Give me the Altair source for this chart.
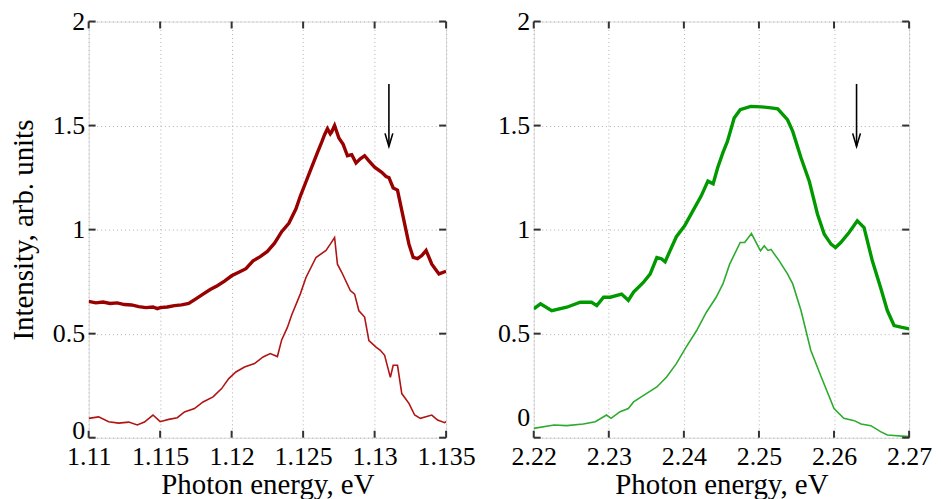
import altair as alt
import pandas as pd

# ---------------- data ----------------
# Left panel, thick upper curve
l_top_x = [1.1100, 1.1105, 1.1110, 1.1115, 1.1120, 1.1125, 1.1130, 1.1135, 1.1140, 1.1145,
           1.1148, 1.1150, 1.1155, 1.1160, 1.1165, 1.1170, 1.1175, 1.1180, 1.1185, 1.1190,
           1.1195, 1.1200, 1.1205, 1.1210, 1.1215, 1.1220, 1.1225, 1.1230, 1.1235, 1.1240,
           1.1245, 1.1248, 1.1252, 1.1256, 1.1260, 1.1263, 1.1265, 1.1267, 1.1269, 1.1270,
           1.1272, 1.1275, 1.1278, 1.1281, 1.1284, 1.1287, 1.1290, 1.1293, 1.1296, 1.1300,
           1.1305, 1.1308, 1.1310, 1.1313, 1.1316, 1.1320, 1.1324, 1.1327, 1.1330, 1.1333,
           1.1336, 1.1340, 1.1345, 1.1350]
l_top_y = [0.655, 0.648, 0.652, 0.645, 0.648, 0.640, 0.638, 0.630, 0.625, 0.628,
           0.620, 0.625, 0.628, 0.635, 0.638, 0.645, 0.667, 0.690, 0.712, 0.730,
           0.752, 0.778, 0.795, 0.812, 0.850, 0.870, 0.895, 0.935, 0.990, 1.030,
           1.100, 1.160, 1.230, 1.300, 1.370, 1.420, 1.456, 1.485, 1.460, 1.470,
           1.500, 1.440, 1.410, 1.355, 1.360, 1.320, 1.340, 1.355, 1.330, 1.300,
           1.275, 1.255, 1.250, 1.200, 1.190, 1.060, 0.930, 0.866, 0.860, 0.875,
           0.900, 0.834, 0.787, 0.800]

# Left panel, thin lower curve
l_bot_x = [1.1100, 1.1107, 1.1114, 1.1121, 1.1128, 1.1134, 1.1139, 1.1145, 1.1150, 1.1156,
           1.1162, 1.1167, 1.1174, 1.1180, 1.1187, 1.1193, 1.1198, 1.1203, 1.1209, 1.1216,
           1.1222, 1.1227, 1.1232, 1.1235, 1.1239, 1.1242, 1.1248, 1.1252, 1.1259, 1.1266,
           1.1269, 1.1272, 1.1274, 1.1277, 1.1283, 1.1286, 1.1289, 1.1293, 1.1296, 1.1301,
           1.1304, 1.1307, 1.1311, 1.1313, 1.1316, 1.1319, 1.1324, 1.1328, 1.1332, 1.1340,
           1.1344, 1.1349, 1.1350]
l_bot_y = [0.093, 0.100, 0.077, 0.070, 0.075, 0.061, 0.075, 0.109, 0.077, 0.088,
           0.096, 0.124, 0.140, 0.172, 0.196, 0.236, 0.284, 0.316, 0.340, 0.356,
           0.388, 0.404, 0.390, 0.470, 0.530, 0.590, 0.690, 0.770, 0.866, 0.900,
           0.930, 0.962, 0.834, 0.795, 0.707, 0.690, 0.610, 0.580, 0.467, 0.435,
           0.420, 0.396, 0.290, 0.348, 0.348, 0.212, 0.165, 0.109, 0.093, 0.109,
           0.085, 0.072, 0.077]

# Right panel, thick upper curve
r_top_x = [2.2200, 2.2209, 2.2224, 2.2244, 2.2262, 2.2277, 2.2284, 2.2293, 2.2302, 2.2317,
           2.2326, 2.2333, 2.2346, 2.2355, 2.2364, 2.2370, 2.2375, 2.2381, 2.2390, 2.2401,
           2.2412, 2.2423, 2.2432, 2.2439, 2.2445, 2.2452, 2.2458, 2.2467, 2.2475, 2.2489,
           2.2503, 2.2516, 2.2525, 2.2538, 2.2545, 2.2556, 2.2567, 2.2578, 2.2587, 2.2596,
           2.2602, 2.2609, 2.2620, 2.2631, 2.2640, 2.2651, 2.2662, 2.2671, 2.2680, 2.2689,
           2.2700]
r_top_y = [0.619, 0.643, 0.610, 0.627, 0.651, 0.651, 0.635, 0.675, 0.675, 0.690,
           0.660, 0.700, 0.746, 0.786, 0.866, 0.860, 0.845, 0.894, 0.966, 1.018,
           1.090, 1.161, 1.233, 1.220, 1.297, 1.370, 1.424, 1.536, 1.576, 1.592,
           1.590, 1.585, 1.580, 1.528, 1.472, 1.345, 1.233, 1.074, 0.978, 0.930,
           0.914, 0.938, 0.986, 1.042, 1.010, 0.850, 0.722, 0.611, 0.539, 0.531,
           0.523]

# Right panel, thin lower curve
r_bot_x = [2.2200, 2.2227, 2.2244, 2.2266, 2.2282, 2.2297, 2.2303, 2.2315, 2.2326, 2.2333,
           2.2350, 2.2364, 2.2377, 2.2390, 2.2403, 2.2417, 2.2430, 2.2443, 2.2452, 2.2461,
           2.2475, 2.2481, 2.2490, 2.2502, 2.2507, 2.2512, 2.2516, 2.2527, 2.2538, 2.2545,
           2.2556, 2.2569, 2.2583, 2.2600, 2.2613, 2.2627, 2.2636, 2.2649, 2.2662, 2.2671,
           2.2700]
r_bot_y = [0.045, 0.061, 0.058, 0.066, 0.077, 0.109, 0.093, 0.125, 0.140, 0.172,
           0.212, 0.244, 0.292, 0.356, 0.435, 0.515, 0.603, 0.675, 0.739, 0.834,
           0.938, 0.938, 0.981, 0.898, 0.922, 0.900, 0.905, 0.850, 0.787, 0.739,
           0.611, 0.420, 0.292, 0.140, 0.093, 0.082, 0.066, 0.058, 0.029, 0.013,
           0.005]

# Arrows (x position, top, tip)
l_arrow = [1.1310, 1.70, 1.40]
r_arrow = [2.2630, 1.70, 1.40]

# Tick values
l_xticks = [1.11, 1.115, 1.12, 1.125, 1.13, 1.135]
r_xticks = [2.22, 2.23, 2.24, 2.25, 2.26, 2.27]
yticks = [0, 0.5, 1, 1.5, 2]

# ---------------- chart ----------------
FONT = "Liberation Serif"
H = 418
TICK = 7
AX = "#333333"


def panel(tx, ty, bx, by, arrow, xticks, xdom, width, c_top, c_bot, ytitle, zero_off):
    xs = alt.Scale(domain=xdom, nice=False, zero=False)
    ys = alt.Scale(domain=[0, 2], nice=False, zero=False)
    xaxis = alt.Axis(values=xticks, format="~g", grid=True, gridDash=[1, 3],
                     gridColor="#b0b0b0", ticks=False, tickSize=0, domain=False,
                     labelFont=FONT, labelFontSize=26, labelColor="black",
                     labelPadding=6, labelFlush=False, labelOverlap=False,
                     titleFont=FONT, titleFontSize=29, titleFontWeight="normal",
                     titleColor="black", titlePadding=1)
    yaxis = alt.Axis(values=yticks, format="~g", grid=True, gridDash=[1, 3],
                     gridColor="#b0b0b0", ticks=False, tickSize=0, domain=False,
                     labelFont=FONT, labelFontSize=26, labelColor="black",
                     labelPadding=4, labelFlush=False, labelOverlap=False,
                     labelOffset={"condition": {"test": "datum.value === 0", "value": zero_off},
                                  "value": 0},
                     titleFont=FONT, titleFontSize=29, titleFontWeight="normal",
                     titleColor="black", titlePadding=14)
    xtitle = "Photon energy, eV"

    def X(f):
        return alt.X(f"{f}:Q", scale=xs, axis=xaxis, title=xtitle)

    def Y(f):
        if ytitle:
            return alt.Y(f"{f}:Q", scale=ys, axis=yaxis, title=ytitle)
        return alt.Y(f"{f}:Q", scale=ys, axis=yaxis, title=None)

    top_df = pd.DataFrame({"x": tx, "y": ty})
    bot_df = pd.DataFrame({"x": bx, "y": by})
    top = alt.Chart(top_df).mark_line(color=c_top, strokeWidth=3.4, clip=True).encode(x=X("x"), y=Y("y"))
    bot = alt.Chart(bot_df).mark_line(color=c_bot, strokeWidth=1.6, clip=True).encode(x=X("x"), y=Y("y"))

    adf = pd.DataFrame({"x": [arrow[0]], "y": [arrow[1]], "y2": [arrow[2]]})
    arr = alt.Chart(adf).mark_rule(color="black", strokeWidth=1.6).encode(
        x=X("x"), y=Y("y"), y2="y2:Q")
    head = alt.Chart(adf).mark_point(
        shape="M-0.3,-1L0,0L0.3,-1", filled=False, color="black", strokeWidth=1.6,
        size=680, opacity=1).encode(x=X("x"), y=Y("y2"))

    xt = pd.DataFrame({"x": xticks})
    yt = pd.DataFrame({"y": yticks})
    xb = alt.Chart(xt).mark_rule(color=AX, strokeWidth=2).encode(
        x=X("x"), y=alt.value(H), y2=alt.value(H - TICK))
    xtp = alt.Chart(xt).mark_rule(color=AX, strokeWidth=2).encode(
        x=X("x"), y=alt.value(0), y2=alt.value(TICK))
    yl = alt.Chart(yt).mark_rule(color=AX, strokeWidth=2).encode(
        y=Y("y"), x=alt.value(0), x2=alt.value(TICK))
    yr = alt.Chart(yt).mark_rule(color=AX, strokeWidth=2).encode(
        y=Y("y"), x=alt.value(width - TICK), x2=alt.value(width))

    return alt.layer(bot, top, arr, head, xb, xtp, yl, yr).properties(width=width, height=H)


left = panel(l_top_x, l_top_y, l_bot_x, l_bot_y, l_arrow, l_xticks, [1.11, 1.135], 359,
             "#990000", "#b01414", "Intensity, arb. units", -7)
right = panel(r_top_x, r_top_y, r_bot_x, r_bot_y, r_arrow, r_xticks, [2.22, 2.27], 377,
              "#009900", "#2eaa2e", None, -20)

chart = alt.hconcat(left, right, spacing=88, bounds="flush").properties(
    padding={"left": 1, "top": -1.5, "right": 0, "bottom": 0}
).configure_view(stroke=AX, strokeWidth=1.6).configure(background="white")

chart.save("out.html", embed_options={"renderer": "svg", "actions": False})
